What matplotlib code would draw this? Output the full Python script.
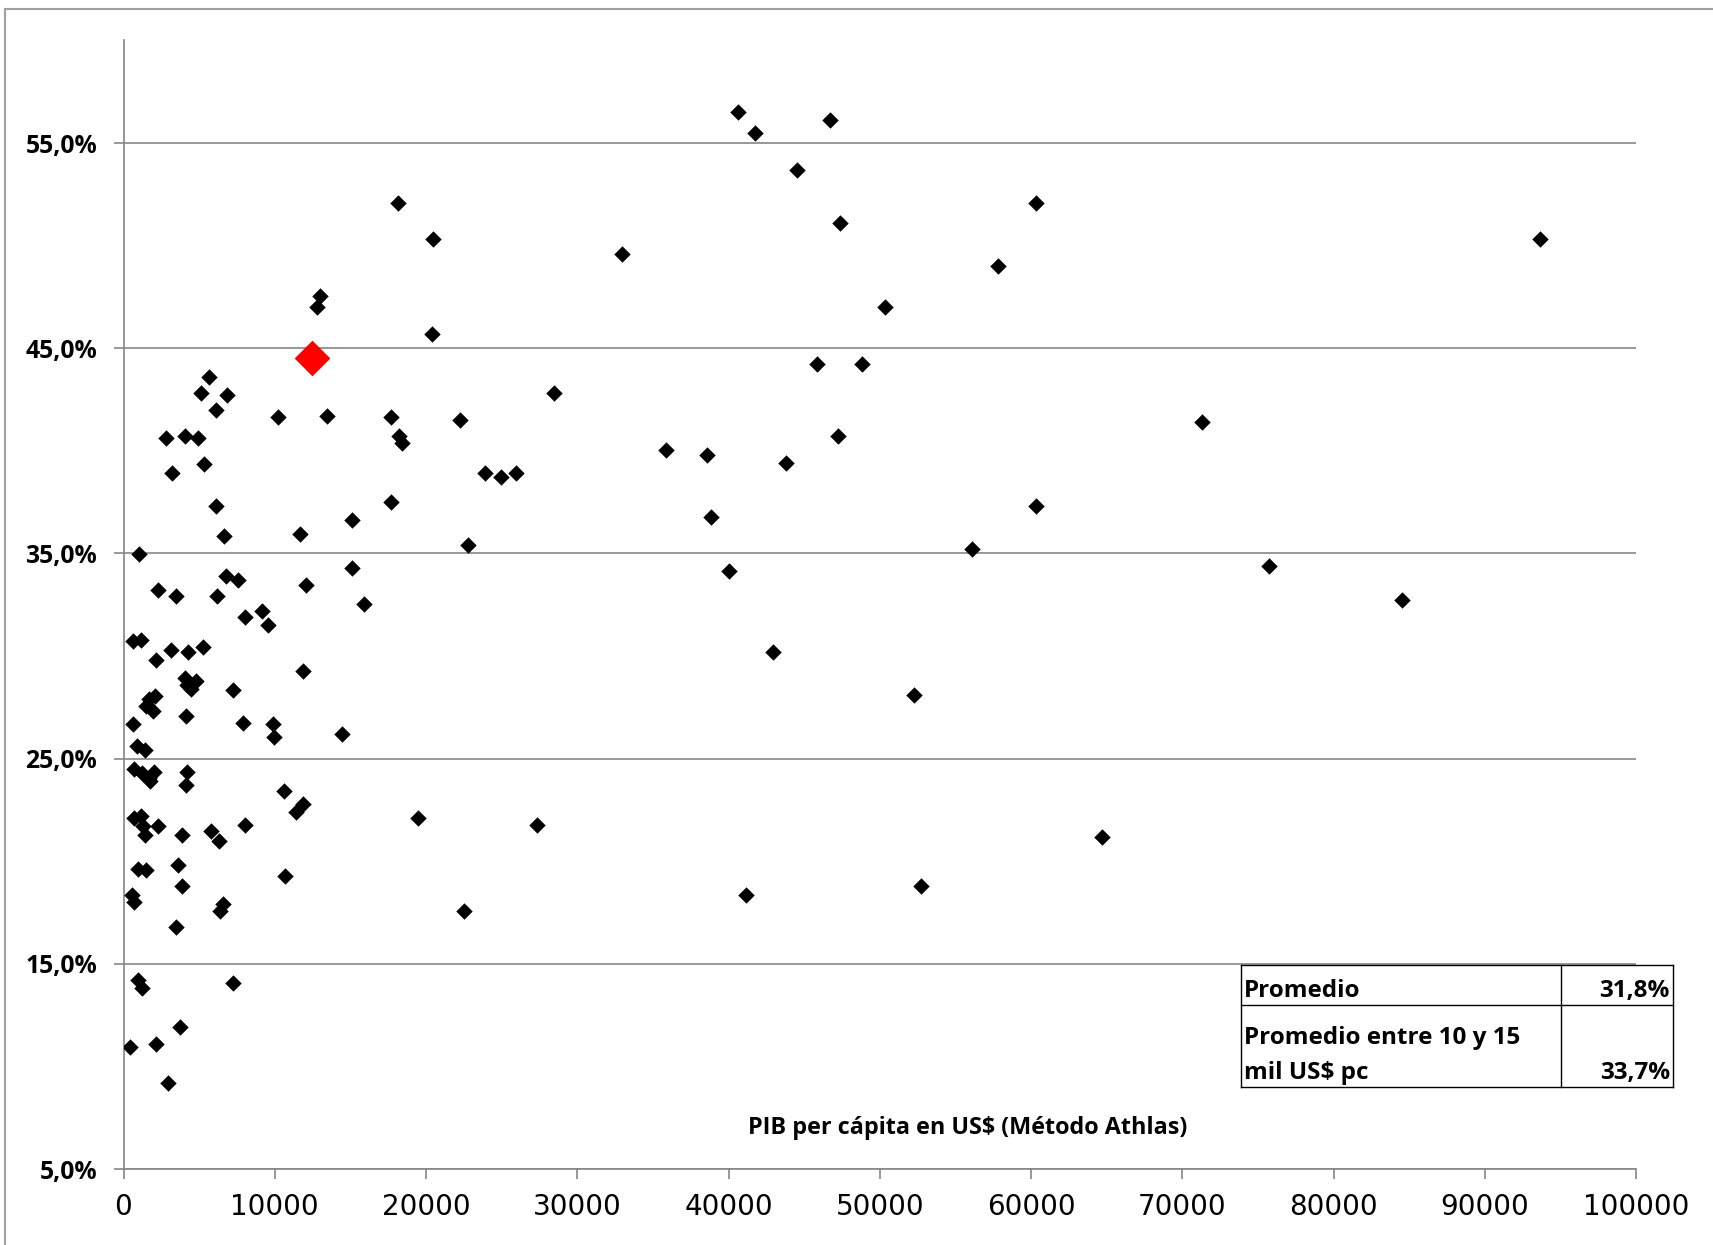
import matplotlib
matplotlib.use("Agg")
import matplotlib.pyplot as plt
from matplotlib.lines import Line2D
from matplotlib.ticker import FuncFormatter

# PIB per cápita (US$) y tasa (%) por país
pib = [40600, 41760, 46680, 44510, 60330, 47400, 18140, 20450, 32950, 93640,
       57800, 50360, 13010, 12790, 20380, 45880, 48840, 28470, 71320, 13440,
       10190, 17700, 22250, 18210, 18430, 47250, 35840, 38580, 43790, 23920,
       24930, 25940, 60330, 17700, 38870, 15100, 11700, 22760, 56070, 75720,
       40030, 15100, 12070, 15900, 84540, 42920, 11850, 52240, 14450, 27310,
       19440, 64670, 22540, 41190, 52750, 10620, 11850, 11420, 10690, 9900,
       9970,
       5640, 5130, 6860, 6140, 2820, 4050, 4910, 5350, 3180, 6140,
       6650, 1010, 6790, 7590, 2310, 3470, 6210, 9180, 8020, 9540,
       650, 1160, 3110, 5280, 4260, 2170, 7230, 4050, 4190, 4480,
       4770, 1660, 2100, 1520, 1950, 4120, 7880, 650, 870, 1450,
       720, 1230, 1660, 2020, 4190, 4120, 1730, 720, 1160, 1300,
       2310, 1450, 3900, 5780, 6290, 8020, 940, 1520, 3610, 3900,
       580, 720, 6580, 6360, 3470, 940, 1230, 7230, 3760, 430,
       2170, 2960]
tasa = [56.5, 55.5, 56.1, 53.7, 52.1, 51.1, 52.1, 50.3, 49.6, 50.3,
        49.0, 47.0, 47.55, 47.0, 45.7, 44.25, 44.25, 42.8, 41.4, 41.7,
        41.65, 41.65, 41.5, 40.7, 40.4, 40.7, 40.05, 39.8, 39.4, 38.9,
        38.7, 38.9, 37.3, 37.5, 36.75, 36.65, 35.95, 35.4, 35.2, 34.4,
        34.15, 34.3, 33.45, 32.55, 32.75, 30.2, 29.25, 28.1, 26.2, 21.75,
        22.1, 21.2, 17.55, 18.35, 18.8, 23.4, 22.8, 22.4, 19.3, 26.7,
        26.05,
        43.6, 42.8, 42.7, 42.0, 40.6, 40.7, 40.6, 39.35, 38.9, 37.3,
        35.85, 34.95, 33.9, 33.7, 33.2, 32.9, 32.9, 32.2, 31.9, 31.5,
        30.75, 30.8, 30.3, 30.45, 30.2, 29.8, 28.35, 28.95, 28.6, 28.4,
        28.8, 27.9, 28.05, 27.55, 27.3, 27.1, 26.75, 26.7, 25.6, 25.4,
        24.5, 24.3, 24.05, 24.35, 24.35, 23.7, 23.9, 22.1, 22.2, 21.7,
        21.7, 21.3, 21.3, 21.45, 21.0, 21.75, 19.6, 19.55, 19.8, 18.8,
        18.35, 18.0, 17.9, 17.55, 16.8, 14.2, 13.8, 14.05, 11.9, 10.95,
        11.1, 9.2]

# país destacado
pib_dest = [12430]
tasa_dest = [44.5]

x_ticks = list(range(0, 100001, 10000))
y_ticks = [5, 15, 25, 35, 45, 55]

tabla_filas = [("Promedio", "31,8%"),
               ("Promedio entre 10 y 15\nmil US$ pc", "33,7%")]

W, H = 1713, 1245
fig = plt.figure(figsize=(W / 100, H / 100), dpi=100)
fuente = "Open Sans"


def fx(px):
    return px / W


def fy(py):
    return 1 - py / H


ax = fig.add_axes([fx(123.5), fy(1169), fx(1636) - fx(123.5), fy(40.4) - fy(1169)])

gris = "#868686"
ax.scatter(pib, tasa, marker="D", s=70, color="black", linewidths=0, zorder=3)
ax.scatter(pib_dest, tasa_dest, marker="D", s=330, color="#ff0000", linewidths=0, zorder=4)

ax.set_xlim(0, 100000)
ax.set_ylim(5, 60)
ax.set_xticks(x_ticks)
ax.set_yticks(y_ticks)
ax.yaxis.set_major_formatter(FuncFormatter(lambda v, p: f"{v:.1f}%".replace(".", ",")))
ax.grid(axis="y", color=gris, linewidth=1.2, zorder=1)

for side in ["top", "right"]:
    ax.spines[side].set_visible(False)
for side in ["left", "bottom"]:
    ax.spines[side].set_color(gris)
    ax.spines[side].set_linewidth(1.2)

ax.tick_params(axis="x", direction="out", length=7, width=1.2, color=gris, pad=10,
               labelsize=20, labelcolor="black")
ax.tick_params(axis="y", direction="out", length=7, width=1.2, color=gris, pad=12,
               labelsize=17.8, labelcolor="black")
for lab in ax.get_xticklabels():
    lab.set_fontfamily("DejaVu Sans")
for lab in ax.get_yticklabels():
    lab.set_fontfamily(fuente)
    lab.set_fontweight("bold")

ax.text(0.558, 0.036, "PIB per cápita en US$ (Método Athlas)", transform=ax.transAxes,
        ha="center", va="center", fontsize=16.8, fontweight="bold", family=fuente)

# marco exterior (solo bordes superior e izquierdo visibles)
fig.add_artist(Line2D([fx(5), fx(5)], [fy(9), 0], color="#a0a0a0", linewidth=1.5))
fig.add_artist(Line2D([fx(5), 1], [fy(9), fy(9)], color="#a0a0a0", linewidth=1.5))

# tabla de promedios
x0, x1, xc = 1241, 1673, 1561
y0, ym, y1 = 965, 1005, 1087
for xa, ya, xb, yb in [(x0, y0, x1, y0), (x0, ym, x1, ym), (x0, y1, x1, y1),
                       (x0, y0, x0, y1), (xc, y0, xc, y1), (x1, y0, x1, y1)]:
    fig.add_artist(Line2D([fx(xa), fx(xb)], [fy(ya), fy(yb)], color="black", linewidth=1.0))

estilo = dict(fontsize=17.5, fontweight="bold", family=fuente, va="center")
fig.text(fx(x0 + 3), fy(991), tabla_filas[0][0], ha="left", **estilo)
fig.text(fx(x1 - 3), fy(991), tabla_filas[0][1], ha="right", **estilo)
lineas = tabla_filas[1][0].split("\n")
fig.text(fx(x0 + 3), fy(1038), lineas[0], ha="left", **estilo)
fig.text(fx(x0 + 3), fy(1073), lineas[1], ha="left", **estilo)
fig.text(fx(x1 - 3), fy(1073), tabla_filas[1][1], ha="right", **estilo)

fig.savefig("out.png", dpi=100)
